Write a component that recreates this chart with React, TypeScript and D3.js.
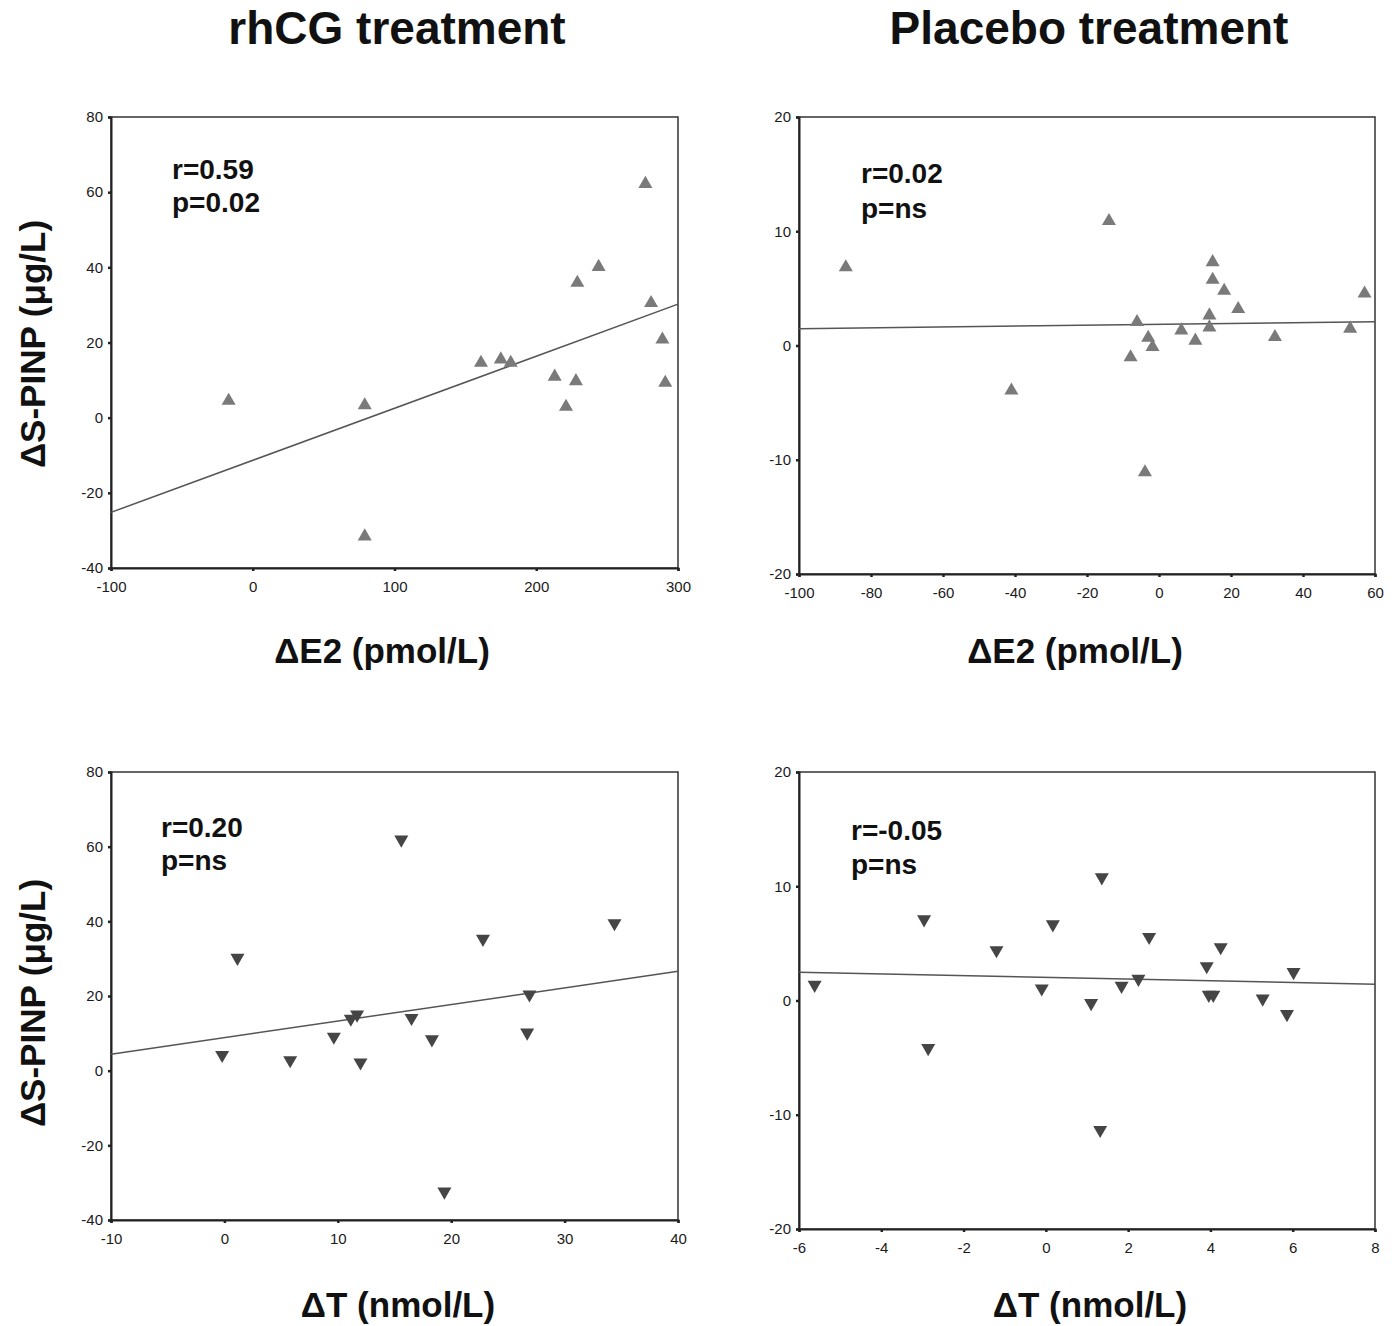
import React, { useEffect, useRef } from 'react';
import * as d3 from 'd3';

// rhCG treatment: delta E2 vs delta S-PINP
const rhcgE2 = [-17, 79, 79, 161, 175, 182, 213, 221, 228, 229, 244, 277, 281, 289, 291];
const rhcgE2Pinp = [4.5, 3.3, -31.6, 14.6, 15.5, 14.6, 10.9, 2.9, 9.7, 35.9, 40.1, 62.2, 30.5, 20.8, 9.3];

// placebo: delta E2 vs delta S-PINP
const placeboE2 = [-87, -13.9, -41, -7.9, -6.1, -3, -1.8, -3.9, 6.2, 10.1, 14, 14, 14.9, 14.9, 18.1, 22, 32.2, 53.1, 57.1];
const placeboE2Pinp = [6.85, 10.9, -3.94, -1.03, 2.05, 0.68, -0.13, -11.1, 1.32, 0.42, 2.63, 1.58, 7.29, 5.75, 4.79, 3.19, 0.74, 1.47, 4.55];

// rhCG treatment: delta T vs delta S-PINP
const rhcgT = [-0.2, 1.15, 5.8, 9.65, 11.15, 11.7, 12, 15.6, 16.5, 18.3, 19.4, 22.8, 26.7, 26.9, 34.4];
const rhcgTPinp = [4.2, 30.2, 2.8, 9.1, 13.9, 15, 2.2, 61.9, 14.1, 8.4, -32.4, 35.3, 10.2, 20.4, 39.5];

// placebo: delta T vs delta S-PINP
const placeboT = [-5.62, -2.96, -2.86, -1.2, -0.1, 0.17, 1.1, 1.36, 1.32, 1.84, 2.25, 2.51, 3.91, 3.96, 4.07, 4.25, 5.27, 5.86, 6.02];
const placeboTPinp = [1.37, 7.1, -4.17, 4.4, 1.05, 6.67, -0.23, 10.78, -11.33, 1.28, 1.89, 5.56, 3.0, 0.5, 0.5, 4.66, 0.17, -1.19, 2.48];

// fitted lines (intercept, slope)
const fitIntercepts = [-11.35, 1.85, 8.84, 2.03];
const fitSlopes = [0.1385, 0.0038, 0.444, -0.075];

const rLabels = ['r=0.59', 'r=0.02', 'r=0.20', 'r=-0.05'];
const pLabels = ['p=0.02', 'p=ns', 'p=ns', 'p=ns'];

const xTicksE2Rhcg = [-100, 0, 100, 200, 300];
const xTicksE2Placebo = [-100, -80, -60, -40, -20, 0, 20, 40, 60];
const xTicksTRhcg = [-10, 0, 10, 20, 30, 40];
const xTicksTPlacebo = [-6, -4, -2, 0, 2, 4, 6, 8];
const yTicksRhcg = [-40, -20, 0, 20, 40, 60, 80];
const yTicksPlacebo = [-20, -10, 0, 10, 20];

const FONT = '"Liberation Sans", Arial, Helvetica, sans-serif';

const panels = [
  { left: 111, right: 678, top: 117, bottom: 568, xs: rhcgE2, ys: rhcgE2Pinp, xTicks: xTicksE2Rhcg, yTicks: yTicksRhcg,
    up: true, color: '#7a7a7a', textX: 172, rY: 179, pY: 212 },
  { left: 799, right: 1375, top: 117, bottom: 574, xs: placeboE2, ys: placeboE2Pinp, xTicks: xTicksE2Placebo, yTicks: yTicksPlacebo,
    up: true, color: '#7a7a7a', textX: 861, rY: 183, pY: 218 },
  { left: 111, right: 678, top: 772, bottom: 1220, xs: rhcgT, ys: rhcgTPinp, xTicks: xTicksTRhcg, yTicks: yTicksRhcg,
    up: false, color: '#454545', textX: 161, rY: 837, pY: 870 },
  { left: 799, right: 1375, top: 772, bottom: 1229, xs: placeboT, ys: placeboTPinp, xTicks: xTicksTPlacebo, yTicks: yTicksPlacebo,
    up: false, color: '#454545', textX: 851, rY: 840, pY: 874 },
];

export default function App() {
  const ref = useRef<SVGSVGElement>(null);

  useEffect(() => {
    const svg = d3.select(ref.current);
    svg.selectAll('*').remove();

    // headings and axis titles
    const heads = [
      { t: 'rhCG treatment', x: 397, y: 44, s: 46 },
      { t: 'Placebo treatment', x: 1089, y: 44, s: 46 },
      { t: '\u0394E2 (pmol/L)', x: 382, y: 663, s: 35 },
      { t: '\u0394E2 (pmol/L)', x: 1075, y: 663, s: 35 },
      { t: '\u0394T (nmol/L)', x: 398, y: 1317, s: 35 },
      { t: '\u0394T (nmol/L)', x: 1090, y: 1317, s: 35 },
    ];
    heads.forEach(h => {
      svg.append('text')
        .attr('x', h.x).attr('y', h.y)
        .attr('text-anchor', 'middle')
        .attr('font-family', FONT).attr('font-weight', 'bold')
        .attr('font-size', h.s).attr('fill', '#111')
        .text(h.t);
    });
    [344, 1003].forEach(cy => {
      svg.append('text')
        .attr('transform', `translate(45,${cy}) rotate(-90)`)
        .attr('text-anchor', 'middle')
        .attr('font-family', FONT).attr('font-weight', 'bold')
        .attr('font-size', 35).attr('fill', '#111')
        .text('\u0394S-PINP (\u03bcg/L)');
    });

    panels.forEach((p, i) => {
      const x = d3.scaleLinear()
        .domain([p.xTicks[0], p.xTicks[p.xTicks.length - 1]])
        .range([p.left, p.right]);
      const y = d3.scaleLinear()
        .domain([p.yTicks[0], p.yTicks[p.yTicks.length - 1]])
        .range([p.bottom, p.top]);

      const g = svg.append('g');

      // frame
      g.append('rect')
        .attr('x', p.left).attr('y', p.top)
        .attr('width', p.right - p.left).attr('height', p.bottom - p.top)
        .attr('fill', 'none').attr('stroke', '#333').attr('stroke-width', 1.5);

      const xAxis = g.append('g')
        .attr('transform', `translate(0,${p.bottom})`)
        .call(d3.axisBottom(x).tickValues(p.xTicks).tickSize(3).tickPadding(10).tickFormat(d3.format('d')));
      const yAxis = g.append('g')
        .attr('transform', `translate(${p.left},0)`)
        .call(d3.axisLeft(y).tickValues(p.yTicks).tickSize(3).tickPadding(5).tickFormat(d3.format('d')));

      [xAxis, yAxis].forEach(a => {
        a.select('.domain').attr('stroke', '#222').attr('stroke-width', 2);
        a.selectAll('.tick line').attr('stroke', '#222').attr('stroke-width', 2.5);
        a.selectAll('.tick text')
          .attr('font-family', FONT).attr('font-size', 15).attr('fill', '#1a1a1a')
          .text((d: any) => String(d));
      });

      // regression line
      const x0 = p.xTicks[0];
      const x1 = p.xTicks[p.xTicks.length - 1];
      g.append('line')
        .attr('x1', x(x0)).attr('y1', y(fitIntercepts[i] + fitSlopes[i] * x0))
        .attr('x2', x(x1)).attr('y2', y(fitIntercepts[i] + fitSlopes[i] * x1))
        .attr('stroke', '#555').attr('stroke-width', 1.5);

      // markers
      const tri = d3.symbol().type(d3.symbolTriangle).size(85);
      g.selectAll('path.pt')
        .data(p.xs.map((v, k) => [v, p.ys[k]]))
        .enter()
        .append('path')
        .attr('class', 'pt')
        .attr('d', tri() as string)
        .attr('transform', d => `translate(${x(d[0])},${y(d[1])})${p.up ? '' : ' rotate(180)'}`)
        .attr('fill', p.color);

      // stats
      g.append('text')
        .attr('x', p.textX).attr('y', p.rY)
        .attr('font-family', FONT).attr('font-weight', 'bold')
        .attr('font-size', 28).attr('fill', '#111')
        .text(rLabels[i]);
      g.append('text')
        .attr('x', p.textX).attr('y', p.pY)
        .attr('font-family', FONT).attr('font-weight', 'bold')
        .attr('font-size', 28).attr('fill', '#111')
        .text(pLabels[i]);
    });
  }, []);

  return (
    <svg ref={ref} width={1397} height={1326}
      style={{ position: 'absolute', left: 0, top: 0, background: '#fff' }} />
  );
}
